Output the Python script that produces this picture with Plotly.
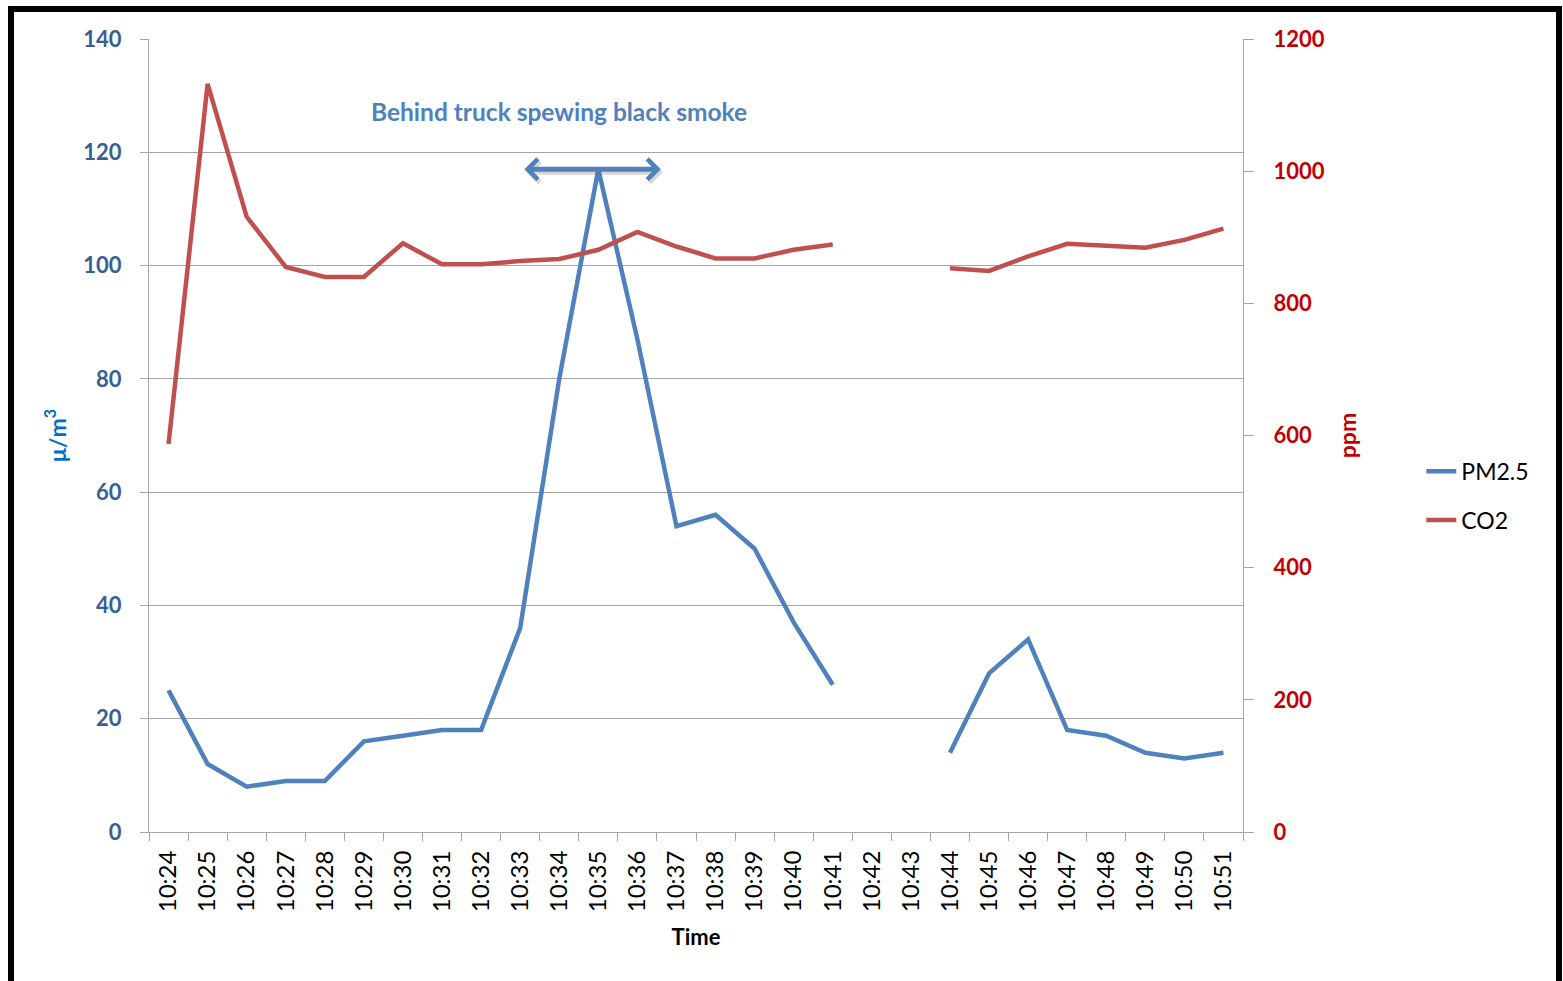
import plotly.graph_objects as go

# Minute-by-minute readings along the route
times = ["10:24", "10:25", "10:26", "10:27", "10:28", "10:29", "10:30", "10:31",
         "10:32", "10:33", "10:34", "10:35", "10:36", "10:37", "10:38", "10:39",
         "10:40", "10:41", "10:42", "10:43", "10:44", "10:45", "10:46", "10:47",
         "10:48", "10:49", "10:50", "10:51"]

pm25 = [25, 12, 8, 9, 9, 16, 17, 18, 18, 36, 80, 117, 87, 54, 56, 50,
        37, 26, None, None, 14, 28, 34, 18, 17, 14, 13, 14]

co2 = [587, 1132, 931, 855, 840, 840, 891, 859, 859, 864, 867, 881, 908, 886,
       868, 868, 881, 889, None, None, 853, 849, 871, 890, 887, 884, 896, 913]

pm_ticks = [0, 20, 40, 60, 80, 100, 120, 140]
co2_ticks = [0, 200, 400, 600, 800, 1000, 1200]

BLUE = "#4F81BD"
RED = "#C0504D"
GRID = "#A6A6A6"
FONT = "Lato, 'Liberation Sans', sans-serif"

W, H = 1563, 981
L, R, T, B = 149, 320, 39, 149

fig = go.Figure()

fig.add_trace(go.Scatter(
    x=times, y=pm25, name="PM2.5", mode="lines",
    line=dict(color=BLUE, width=4.5), connectgaps=False,
    legendgroup="pm", yaxis="y"))

fig.add_trace(go.Scatter(
    x=times, y=co2, name="CO2", mode="lines",
    line=dict(color=RED, width=4.5), connectgaps=False,
    legendgroup="co2", yaxis="y2"))

# Double-headed arrow marking the stretch behind the truck (with soft shadow)
for color, dx, dy in (("rgba(110,110,110,0.28)", 2, 3), (BLUE, 0, 0)):
    fig.add_annotation(
        x=12.6, y=117, xref="x", yref="y",
        ax=-138, ay=0, axref="pixel", ayref="pixel",
        xshift=dx, yshift=-dy, text="", showarrow=True,
        arrowhead=4, startarrowhead=4, arrowside="end+start",
        arrowwidth=5, arrowsize=0.8, arrowcolor=color)

fig.add_annotation(
    x=10, y=127.2, xref="x", yref="y",
    text="<b>Behind truck spewing black smoke</b>", showarrow=False,
    font=dict(family=FONT, size=24.5, color=BLUE))

# Outer black frame
fig.add_shape(
    type="rect", xref="paper", yref="paper",
    x0=(11 - L) / (W - L - R), x1=(1559 - L) / (W - L - R),
    y0=(H - B - 995) / (H - T - B), y1=(H - B - 9) / (H - T - B),
    line=dict(color="black", width=6), layer="above")

fig.update_layout(
    width=W, height=H,
    margin=dict(l=L, r=R, t=T, b=B, pad=0),
    paper_bgcolor="white", plot_bgcolor="white",
    font=dict(family=FONT, color="black"),
    showlegend=True,
    legend=dict(
        x=1.163, y=0.424, xanchor="left", yanchor="middle",
        font=dict(family=FONT, size=23, color="black"),
        traceorder="grouped", tracegroupgap=16,
        bgcolor="rgba(0,0,0,0)"),
    xaxis=dict(
        type="category", categoryorder="array", categoryarray=times,
        range=[-0.5, len(times) - 0.5],
        tickangle=-90, tickson="boundaries",
        ticks="outside", ticklen=8, tickcolor=GRID, tickwidth=1,
        showline=True, linecolor=GRID, linewidth=1,
        showgrid=False, zeroline=False,
        tickfont=dict(family=FONT, size=24, color="black"),
        ticklabelstandoff=8,
        title=dict(text="<b>Time</b>", standoff=18,
                   font=dict(family=FONT, size=22, color="black"))),
    yaxis=dict(
        range=[0, 140], tickvals=pm_ticks,
        ticks="outside", ticklen=8, tickcolor=GRID, tickwidth=1,
        showline=True, linecolor=GRID, linewidth=1,
        showgrid=True, gridcolor=GRID, gridwidth=1, zeroline=False,
        tickfont=dict(family=FONT, size=22, color="#376092", weight="bold"),
        ticklabelstandoff=14,
        title=dict(text="<b>μ/m<sup>3</sup></b>", standoff=10,
                   font=dict(family=FONT, size=23, color="#0070C0"))),
    yaxis2=dict(
        range=[0, 1200], tickvals=co2_ticks, overlaying="y", side="right",
        ticks="outside", ticklen=10, tickcolor=GRID, tickwidth=1,
        showline=True, linecolor=GRID, linewidth=1,
        showgrid=False, zeroline=False,
        tickfont=dict(family=FONT, size=22, color="#C00000", weight="bold"),
        ticklabelstandoff=15,
        title=dict(text="<b>ppm</b>", standoff=16,
                   font=dict(family=FONT, size=23, color="#C00000"))),
)

fig.write_html("out.html")
